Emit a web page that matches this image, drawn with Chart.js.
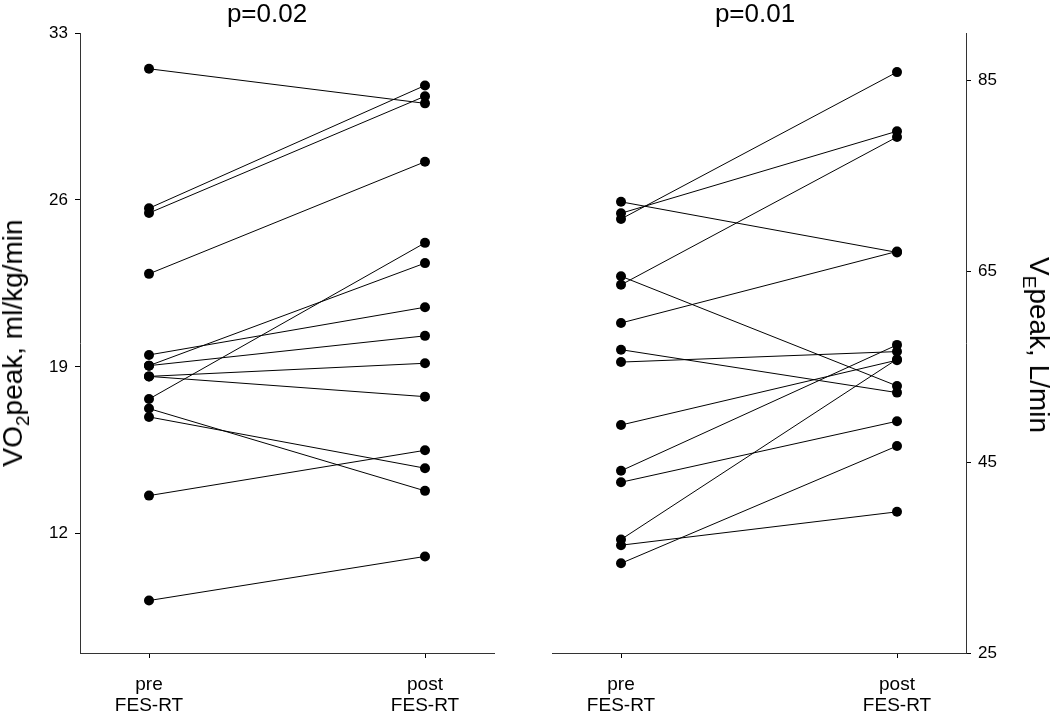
<!DOCTYPE html>
<html lang="en">
<head>
    <meta charset="UTF-8">
    <title>VO2peak and VEpeak, pre vs post FES-RT</title>
    <script src="https://cdn.jsdelivr.net/npm/chart.js"></script>
    <style>
        body {
            margin: 0;
            background: #fff;
            font-family: Arial, "Liberation Sans", sans-serif;
        }
        #wrap {
            position: relative;
            width: 1050px;
            height: 715px;
            overflow: hidden;
        }
        canvas {
            position: absolute;
            top: 0;
        }
        .txt {
            position: absolute;
            white-space: nowrap;
            line-height: 1;
            color: #000;
            transform: translate(-50%, -50%);
        }
        .ptitle { font-size: 26px; }
        .ytitle { font-size: 28px; }
        .ytitle sub {
            font-size: 0.68em;
            line-height: 0;
            vertical-align: -0.35em;
        }
    </style>
</head>
<body>
<div id="wrap">
    <canvas id="vo2Chart" width="525" height="715" style="left:0"></canvas>
    <canvas id="veChart" width="525" height="715" style="left:525px"></canvas>

    <div class="txt ptitle" style="left:267px; top:13px">p=0.02</div>
    <div class="txt ptitle" style="left:755px; top:13px">p=0.01</div>
    <div class="txt ytitle" style="left:12.5px; top:343px; transform: translate(-50%, -50%) rotate(-90deg)">VO<sub>2</sub>peak, ml/kg/min</div>
    <div class="txt ytitle" style="left:1039px; top:345px; transform: translate(-50%, -50%) rotate(90deg)">V<sub>E</sub>peak, L/min</div>
</div>

<script>
    // x positions: 0 = pre, 1 = post
    const xLabels = [['pre', 'FES-RT'], ['post', 'FES-RT']];

    // VO2peak, ml/kg/min (one entry per subject)
    const vo2Pre  = [31.5, 25.65, 25.45, 22.9, 19.5, 19.05, 19.05, 18.6, 18.6, 17.65, 17.25, 16.9, 13.6, 9.2];
    const vo2Post = [30.05, 30.8, 30.35, 27.6, 21.5, 23.35, 20.3, 19.15, 17.75, 24.2, 13.8, 14.75, 15.5, 11.05];
    const vo2Ticks = [12, 19, 26, 33];

    // VEpeak, L/min (one entry per subject)
    const vePre  = [72.3, 71.1, 70.5, 64.5, 63.6, 59.6, 56.8, 55.5, 48.9, 44.1, 42.9, 36.9, 36.3, 34.4];
    const vePost = [67.0, 79.7, 85.9, 53.0, 79.1, 67.1, 52.3, 56.6, 55.7, 57.3, 49.3, 55.8, 39.8, 46.7];
    const veTicks = [25, 45, 65, 85];

    Chart.defaults.font.family = 'Arial, "Liberation Sans", sans-serif';
    Chart.defaults.color = '#000';

    function makeDatasets(pre, post) {
        return pre.map((v, i) => ({
            data: [{ x: 0, y: v }, { x: 1, y: post[i] }],
            borderColor: '#000',
            borderWidth: 1,
            pointRadius: 5,
            pointBackgroundColor: '#000',
            pointBorderWidth: 0,
            pointHoverRadius: 5
        }));
    }

    function makeChart(id, pre, post, yTicks, yMin, yMax, yPos, padding) {
        const ctx = document.getElementById(id).getContext('2d');
        return new Chart(ctx, {
            type: 'line',
            data: { datasets: makeDatasets(pre, post) },
            options: {
                responsive: false,
                animation: false,
                layout: { padding: padding },
                plugins: {
                    legend: { display: false },
                    tooltip: { enabled: false }
                },
                scales: {
                    x: {
                        type: 'linear',
                        min: -0.25,
                        max: 1.25,
                        afterBuildTicks: scale => { scale.ticks = [{ value: 0 }, { value: 1 }]; },
                        afterFit: scale => { scale.height = 62; },
                        grid: { drawOnChartArea: false, drawTicks: true, tickLength: 5, color: '#000' },
                        border: { display: true, color: '#333', width: 1 },
                        ticks: {
                            padding: 16,
                            maxRotation: 0,
                            font: { size: 19, lineHeight: 1.1 },
                            callback: v => xLabels[v]
                        }
                    },
                    y: {
                        type: 'linear',
                        position: yPos,
                        min: yMin,
                        max: yMax,
                        afterBuildTicks: scale => { scale.ticks = yTicks.map(v => ({ value: v })); },
                        afterFit: scale => { scale.width = yPos === 'left' ? 80 : 84; },
                        grid: { drawOnChartArea: false, drawTicks: true, tickLength: 5, color: '#000' },
                        border: { display: true, color: '#333', width: 1 },
                        ticks: {
                            padding: 7,
                            font: { size: 17 }
                        }
                    }
                }
            }
        });
    }

    makeChart('vo2Chart', vo2Pre, vo2Post, vo2Ticks, 7, 33, 'left', { top: 33, right: 31, left: 0, bottom: 0 });
    makeChart('veChart', vePre, vePost, veTicks, 25, 90, 'right', { top: 33, right: 0, left: 27, bottom: 0 });
</script>
</body>
</html>
